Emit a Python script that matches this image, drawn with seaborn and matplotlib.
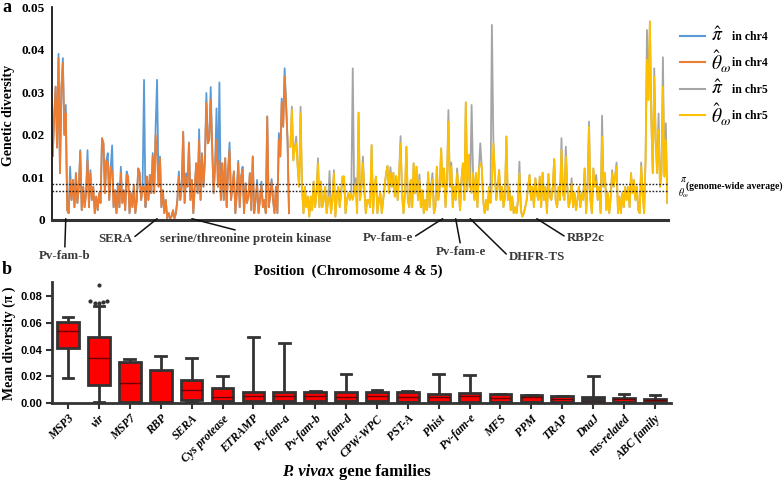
import numpy as np
import pandas as pd
import matplotlib
matplotlib.use("Agg")
import matplotlib.pyplot as plt
from matplotlib.lines import Line2D
import seaborn as sns

# ==============================
# Panel a: sliding-window diversity (x1e-3), one value per window
# ==============================
chr4_theta = [
    15, 23.5, 31.3, 17, 38, 11, 31, 36.8, 20, 25,
    2.3, 1.6, 9.4, 4.7, 9.4, 3, 11, 4, 7.8, 16,
    2.3, 7.8, 3, 6.3, 14, 3, 11, 4.7, 7.8, 1.6,
    5.5, 2.3, 6.3, 4, 19.2, 18, 6.3, 14, 13.5, 4.7,
    12.5, 11, 3, 7, 1.6, 8, 3, 11, 4, 7,
    2.3, 10.6, 10.2, 1.6, 6.3, 3, 8.2, 1.6, 4.7, 12.1,
    11, 4.7, 7.8, 7.8, 3, 10.2, 4.7, 10.6, 6.3, 15,
    6.3, 20, 14.9, 7.8, 14.5, 3, 7, 1.6, 4.7, 0.4,
    1.6, 0.4, 0.8, 2.3, 0.4, 1.6, 4.7, 10.2, 4.7, 7.8,
    20.7, 4, 10, 7.8, 18, 4.7, 9.4, 1.6, 7.8, 13.3,
    6.3, 18.8, 4.7, 15.4, 7.8, 14, 27.4, 18, 18.8, 28.2,
    17.2, 6.3, 12.5, 18.8, 7.8, 14, 4.7, 13.3, 4.7, 14.5,
    3, 11.7, 16.4, 4.7, 7.8, 11.4, 1.6, 6.3, 13.3, 3,
    10.2, 11.8, 1.6, 8.6, 4, 5.5, 11, 2.3, 14.9, 1.6,
    4.7, 8, 1.6, 4.7, 8.2, 3, 4.7, 1.6, 24.3, 3,
    5.5, 9, 4.7, 1.6, 7.8, 1.6, 18.8, 14.9, 27.8, 21.9,
    33.7, 27.4, 18.8, 1.6,
]
chr4_pi = [
    15, 24.7, 31.3, 17, 39, 11, 31, 38, 20, 27,
    2.3, 1.6, 12.5, 4.7, 9.4, 3, 11, 4, 7.8, 16.4,
    2.3, 7.8, 3, 6.3, 16.4, 3, 11.7, 4.7, 7.8, 1.6,
    5.5, 2.3, 6.3, 4, 19.2, 18, 6.3, 14, 15.7, 4.7,
    12.5, 17.5, 3, 7, 1.6, 8.6, 3, 12.5, 4, 7,
    2.3, 11.4, 10.2, 1.6, 6.3, 3, 8.2, 1.6, 4.7, 12.1,
    11, 4.7, 7.8, 32.9, 3, 10.2, 4.7, 10.6, 6.3, 15.7,
    6.3, 22, 32.9, 7.8, 14.9, 3, 7, 1.6, 4.7, 0.4,
    1.6, 0.4, 0.8, 2.3, 0.4, 1.6, 4.7, 11.4, 4.7, 7.8,
    20.7, 4, 11, 7.8, 18.2, 4.7, 9.4, 1.6, 7.8, 13.3,
    6.3, 21.3, 4.7, 15.7, 7.8, 14, 29.8, 18, 18.8, 31.2,
    17.2, 6.3, 12.5, 26.2, 7.8, 32.3, 4.7, 13.3, 4.7, 14.5,
    3, 11.7, 18.2, 4.7, 7.8, 11.4, 1.6, 6.3, 13.9, 3,
    10.2, 12.5, 1.6, 8.6, 4, 5.5, 11, 2.3, 14.9, 1.6,
    4.7, 9.4, 1.6, 4.7, 9, 3, 4.7, 1.6, 24.3, 3,
    5.5, 9.6, 4.7, 1.6, 7.8, 1.6, 20.4, 14.9, 28.5, 21.9,
    35.6, 27.4, 18.8, 1.6,
]
chr5_theta = [
    17.2, 25.8, 14, 17.2, 18, 12.5, 7.8, 25, 7.8, 1.6,
    7.8, 3, 5.5, 0.8, 5.5, 2.3, 9, 3, 6.3, 13.3,
    3, 9, 3, 4.7, 7.8, 1.6, 4.7, 5.5, 1.6, 4.7,
    11, 0.8, 5.5, 7.8, 3, 6.7, 10.2, 10.2, 1.6, 4.7,
    6.3, 4.7, 6.3, 4.7, 6.3, 8.6, 1.6, 25.2, 4.7, 7.8,
    13.3, 7, 1.6, 4.7, 4.7, 3, 17.6, 1.6, 7.8, 10.2,
    1.6, 4.7, 6.3, 1.6, 4.7, 7.8, 11, 12.7, 6.3, 11,
    7.8, 11.1, 5.5, 10.3, 4.7, 11, 18, 6.3, 1.6, 6.3,
    17.2, 4.7, 3, 9.4, 3, 13.3, 6.3, 12.5, 4.7, 9.4,
    3, 7, 1.6, 4.7, 2.3, 11.2, 3, 7.8, 9.5, 1.6,
    3, 12.5, 4.7, 7.8, 16.8, 7.8, 12.1, 3, 9.4, 23.1,
    7.8, 12.5, 3, 7.8, 4.7, 11, 7.8, 2.3, 9.4, 13.3,
    4.7, 27.6, 7, 15.3, 7.8, 6.3, 11, 4.7, 11, 3,
    11.7, 13.3, 12.5, 4.7, 1.6, 4.7, 2.3, 7.8, 4, 7.8,
    18, 11, 4.7, 7.8, 11.7, 4.7, 7.8, 3, 5.5, 19.6,
    4.7, 7.8, 2.3, 5.5, 1.6, 3, 1.6, 4.7, 11, 2.3,
    0.8, 1.6, 3, 4.7, 7.8, 10.6, 4.7, 7.8, 3, 9.8,
    6.3, 4.7, 10.2, 3, 11.1, 4.7, 7.8, 1.6, 10.8, 5.5,
    4.7, 7.8, 14.3, 4.7, 3, 7.8, 4.7, 16.4, 6.3, 4.7,
    14.9, 7.8, 3, 4.7, 8.6, 3, 6.3, 2.3, 4.7, 7.8,
    3, 6.3, 4.7, 12.1, 1.6, 7.8, 21.9, 4.7, 1.6, 12.1,
    7.8, 9, 4.7, 7.8, 1.6, 19.6, 7.8, 11, 2.3, 6.3,
    1.6, 5.5, 11, 7.8, 10.2, 12.5, 1.6, 5.5, 1.6, 6.3,
    3, 7.8, 4.7, 7.8, 3, 11, 6.3, 9.4, 4.7, 7.8,
    2.3, 1.6, 12.5, 6.3, 1.6, 14, 37.6, 28.2, 46.6, 23.5,
    11, 33.7, 18.8, 11, 21.1, 7.8, 11, 31.3, 10.2, 18.8,
    4,
]
chr5_pi = [
    17.2, 26.6, 14, 17.2, 19.6, 12.5, 7.8, 26.6, 7.8, 1.6,
    7.8, 3, 5.5, 0.8, 5.5, 2.3, 9, 3, 6.3, 14.5,
    3, 9, 3, 4.7, 7.8, 1.6, 4.7, 11.5, 1.6, 4.7,
    11.7, 0.8, 5.5, 7.8, 3, 6.7, 10.2, 10.2, 1.6, 4.7,
    6.3, 4.7, 6.3, 35.6, 6.3, 9.8, 1.6, 25.2, 4.7, 7.8,
    14.9, 7, 1.6, 4.7, 4.7, 3, 17.6, 1.6, 7.8, 10.2,
    1.6, 4.7, 6.3, 1.6, 4.7, 7.8, 11, 12.7, 6.3, 12.4,
    7.8, 11.1, 5.5, 10.3, 4.7, 11, 19.7, 6.3, 1.6, 6.3,
    17.2, 4.7, 3, 9.4, 3, 13.3, 6.3, 12.5, 4.7, 10.7,
    3, 7, 1.6, 4.7, 2.3, 11.2, 3, 7.8, 11, 1.6,
    3, 12.5, 4.7, 7.8, 16.8, 7.8, 12.1, 3, 9.4, 25.8,
    7.8, 13.5, 3, 7.8, 4.7, 12.1, 7.8, 2.3, 9.4, 13.3,
    4.7, 27.6, 7, 15.3, 7.8, 27, 11, 4.7, 11, 3,
    11.7, 18, 12.5, 4.7, 1.6, 4.7, 2.3, 7.8, 4, 45.8,
    18.8, 11, 4.7, 7.8, 11.7, 4.7, 7.8, 3, 5.5, 19.6,
    4.7, 7.8, 2.3, 5.5, 1.6, 3, 1.6, 4.7, 13.7, 2.3,
    0.8, 1.6, 3, 4.7, 7.8, 10.6, 4.7, 7.8, 3, 9.8,
    6.3, 4.7, 10.2, 3, 11.1, 4.7, 7.8, 1.6, 10.8, 5.5,
    4.7, 7.8, 14.3, 4.7, 3, 7.8, 4.7, 19.2, 6.3, 4.7,
    17.2, 7.8, 3, 4.7, 9.8, 3, 6.3, 2.3, 4.7, 7.8,
    3, 6.3, 4.7, 12.1, 1.6, 7.8, 23.1, 4.7, 1.6, 12.1,
    7.8, 10.6, 4.7, 7.8, 1.6, 24.5, 7.8, 11, 2.3, 6.3,
    1.6, 5.5, 11.7, 7.8, 10.2, 13.5, 1.6, 5.5, 1.6, 6.3,
    3, 7.8, 4.7, 7.8, 3, 11, 6.3, 9.4, 4.7, 7.8,
    2.3, 1.6, 13.5, 6.3, 1.6, 14, 44.6, 28.2, 46.6, 23.5,
    11, 35.6, 18.8, 11, 25, 7.8, 11, 38.2, 10.2, 22.7,
    4,
]
genome_pi = 0.0084
genome_theta = 0.0068

gene_labels = ["Pv-fam-b", "SERA", "serine/threonine protein kinase",
               "Pv-fam-e", "Pv-fam-e", "DHFR-TS", "RBP2c"]
gene_windows = [9, 72, 96, 269, 278, 288, 334]

# ==============================
# Panel b: mean diversity per gene family (box summaries)
# ==============================
families = ["MSP3", "vir", "MSP7", "RBP", "SERA", "Cys protease", "ETRAMP",
            "Pv-fam-a", "Pv-fam-b", "Pv-fam-d", "CPW-WPC", "PST-A", "Phist",
            "Pv-fam-e", "MFS", "PPM", "TRAP", "DnaJ", "ras-related", "ABC family"]
whisker_low = [0.0185, 0.001, 0.0, 0.0, 0.001, 0.0005, 0.0005, 0.0005, 0.0005, 0.0005,
               0.0005, 0.0005, 0.0003, 0.0003, 0.0005, 0.0005, 0.0005, 0.0, 0.0005, 0.0003]
q1 = [0.041, 0.0133, 0.0008, 0.0005, 0.0025, 0.0015, 0.0015, 0.0015, 0.0015, 0.0012,
      0.0015, 0.001, 0.0008, 0.0008, 0.001, 0.001, 0.001, 0.0003, 0.0008, 0.0005]
median = [0.0537, 0.0335, 0.015, 0.001, 0.0095, 0.0045, 0.005, 0.005, 0.005, 0.0045,
          0.0055, 0.0045, 0.0045, 0.005, 0.0035, 0.0043, 0.0033, 0.001, 0.003, 0.002]
q3 = [0.0605, 0.049, 0.0305, 0.025, 0.017, 0.011, 0.0085, 0.0085, 0.0085, 0.008,
      0.008, 0.0085, 0.0065, 0.0073, 0.0068, 0.006, 0.0052, 0.0048, 0.004, 0.003]
whisker_high = [0.064, 0.0725, 0.033, 0.035, 0.034, 0.020, 0.049, 0.045, 0.0088, 0.022,
                0.010, 0.009, 0.022, 0.0208, 0.007, 0.0062, 0.0054, 0.020, 0.0065, 0.0058]
vir_outliers = [0.088, 0.0765, 0.076, 0.0755, 0.075, 0.0745]

# ==============================
# Styling
# ==============================
plt.rcParams["font.family"] = ["Liberation Serif", "DejaVu Serif"]
plt.rcParams["mathtext.fontset"] = "stix"

W, H = 784, 482
fig = plt.figure(figsize=(W / 100, H / 100), dpi=100)


def fx(px):
    return px / W


def fy(py):
    return 1 - py / H


def rect(l, t, r, b):
    return [fx(l), fy(b), (r - l) / W, (b - t) / H]


ax_a = fig.add_axes(rect(52, 7, 668, 220))
ax_b = fig.add_axes(rect(52, 282, 671, 403))

# ---- panel a ----
n4 = len(chr4_theta)


def series_frame(values, start, label):
    return pd.DataFrame({"window": np.arange(start, start + len(values)),
                         "diversity": np.asarray(values) / 1000.0,
                         "series": label})


track = pd.concat([series_frame(chr4_pi, 0, "pi4"),
                   series_frame(chr4_theta, 0, "theta4"),
                   series_frame(chr5_pi, n4, "pi5"),
                   series_frame(chr5_theta, n4, "theta5")], ignore_index=True)
colors = {"pi4": "#5B9BD5", "theta4": "#ED7D31", "pi5": "#A5A5A5", "theta5": "#FFC000"}

sns.lineplot(data=track, x="window", y="diversity", hue="series",
             hue_order=["pi4", "theta4", "pi5", "theta5"], palette=colors,
             estimator=None, legend=False, linewidth=1.3, ax=ax_a)

ax_a.axhline(genome_pi, color="#222222", lw=1.0, ls=(0, (1.2, 1.2)), zorder=5)
ax_a.axhline(genome_theta, color="#222222", lw=1.0, ls=(0, (1.2, 1.2)), zorder=5)

ax_a.set_xlim(-0.5, n4 + len(chr5_theta) - 0.5)
ax_a.set_ylim(0, 0.05)
ax_a.set_xticks([])
ax_a.set_yticks([0, 0.01, 0.02, 0.03, 0.04, 0.05])
ax_a.set_yticklabels(["0", "0.01", "0.02", "0.03", "0.04", "0.05"],
                     fontsize=9.5, fontweight="bold")
ax_a.tick_params(axis="y", length=0, pad=5)
ax_a.set_xlabel("")
ax_a.set_ylabel("")
for s in ["top", "right"]:
    ax_a.spines[s].set_visible(False)
ax_a.spines["left"].set_linewidth(1.2)
ax_a.spines["bottom"].set_linewidth(2.2)
ax_a.spines["bottom"].set_color("#333333")

# gene pointers (text offset in pixels, anchor of the leader line on the text box)
offsets = [(-1, -37), (-42, -20), (54, -20), (-55, -19), (5, -33), (67, -38), (49, -19)]
relpos = [(0.5, 1), (1, 0.5), (0.5, 1), (1, 0.5), (0.5, 1), (0, 0.5), (0, 0.5)]
for lab, win, off, rp in zip(gene_labels, gene_windows, offsets, relpos):
    ax_a.annotate(lab, xy=(win, 0.0003), xytext=off, textcoords="offset pixels",
                  ha="center", va="center", fontsize=9.3, fontweight="bold",
                  color="#3a3a3a", annotation_clip=False,
                  arrowprops=dict(arrowstyle="-", color="#111111", lw=1.1,
                                  relpos=rp, shrinkA=0, shrinkB=0))

# legend drawn by hand (symbols larger than the words)
legend_rows = [(36, "#5B9BD5", r"$\hat{\pi}$", "in chr4"),
               (62, "#ED7D31", r"$\hat{\theta}_{\omega}$", "in chr4"),
               (89, "#A5A5A5", r"$\hat{\pi}$", "in chr5"),
               (115, "#FFC000", r"$\hat{\theta}_{\omega}$", "in chr5")]
for ypx, col, sym, txt in legend_rows:
    fig.add_artist(Line2D([fx(680), fx(705)], [fy(ypx), fy(ypx)],
                          transform=fig.transFigure, color=col, lw=1.5))
    fig.text(fx(711), fy(ypx), sym, fontsize=14, ha="left", va="center")
    fig.text(fx(732), fy(ypx + 1), txt, fontsize=8.5, fontweight="bold",
             ha="left", va="center")

fig.text(fx(680), fy(180), r"$\pi$", fontsize=7, ha="left", va="center")
fig.text(fx(678), fy(193), r"$\theta_{\omega}$", fontsize=7, ha="left", va="center")
fig.text(fx(686), fy(186), "(genome-wide average)", fontsize=7, fontweight="bold",
         ha="left", va="center")

fig.text(fx(9), fy(115), "Genetic diversity", rotation=90, fontsize=10,
         fontweight="bold", ha="center", va="center")
fig.text(fx(348), fy(271), "Position  (Chromosome 4 & 5)", fontsize=10.5,
         fontweight="bold", ha="center", va="center")

# ---- panel b ----
box_long = pd.DataFrame({
    "family": np.repeat(families, 5),
    "value": np.column_stack([whisker_low, q1, median, q3, whisker_high]).ravel(),
})
sns.boxplot(data=box_long, x="family", y="value", order=families, color="#FF0000",
            saturation=1, width=0.7, whis=(0, 100), linewidth=2.0,
            linecolor="#333333", fliersize=0,
            medianprops=dict(color="#6a0000", linewidth=1.0), ax=ax_b)
ax_b.patches[families.index("DnaJ")].set_facecolor("#333333")

outl = pd.DataFrame({"family": ["vir"] * len(vir_outliers), "value": vir_outliers})
sns.swarmplot(data=outl, x="family", y="value", order=families, color="#333333",
              size=3, ax=ax_b)

ax_b.set_xlim(-0.52, len(families) - 0.48)
ax_b.set_ylim(0, 0.0905)
ax_b.set_yticks([0, 0.02, 0.04, 0.06, 0.08])
ax_b.set_yticklabels(["0.00", "0.02", "0.04", "0.06", "0.08"], fontsize=8,
                     fontweight="bold", family=["Liberation Sans", "DejaVu Sans"])
ax_b.set_xticks(range(len(families)))
ax_b.set_xticklabels(families, rotation=45, ha="right", rotation_mode="anchor",
                     fontsize=8.5, fontweight="bold", fontstyle="italic")
ax_b.tick_params(axis="both", length=4, width=1.5, color="#333333", pad=3)
ax_b.set_xlabel("")
ax_b.set_ylabel("")
for s in ["top", "right"]:
    ax_b.spines[s].set_visible(False)
for s in ["left", "bottom"]:
    ax_b.spines[s].set_linewidth(2.0)
    ax_b.spines[s].set_color("#333333")

fig.text(fx(9), fy(343), "Mean diversity (\u03c0 )", rotation=90, fontsize=10,
         fontweight="bold", ha="center", va="center")
fig.text(fx(334), fy(472), "P. vivax", fontsize=12, fontweight="bold",
         fontstyle="italic", ha="right", va="center")
fig.text(fx(339), fy(472), "gene families", fontsize=12, fontweight="bold",
         ha="left", va="center")

fig.text(fx(7), fy(8), "a", fontsize=13, fontweight="bold", ha="center", va="center")
fig.text(fx(7), fy(269), "b", fontsize=13, fontweight="bold", ha="center", va="center")

fig.savefig("out.png", dpi=100)
